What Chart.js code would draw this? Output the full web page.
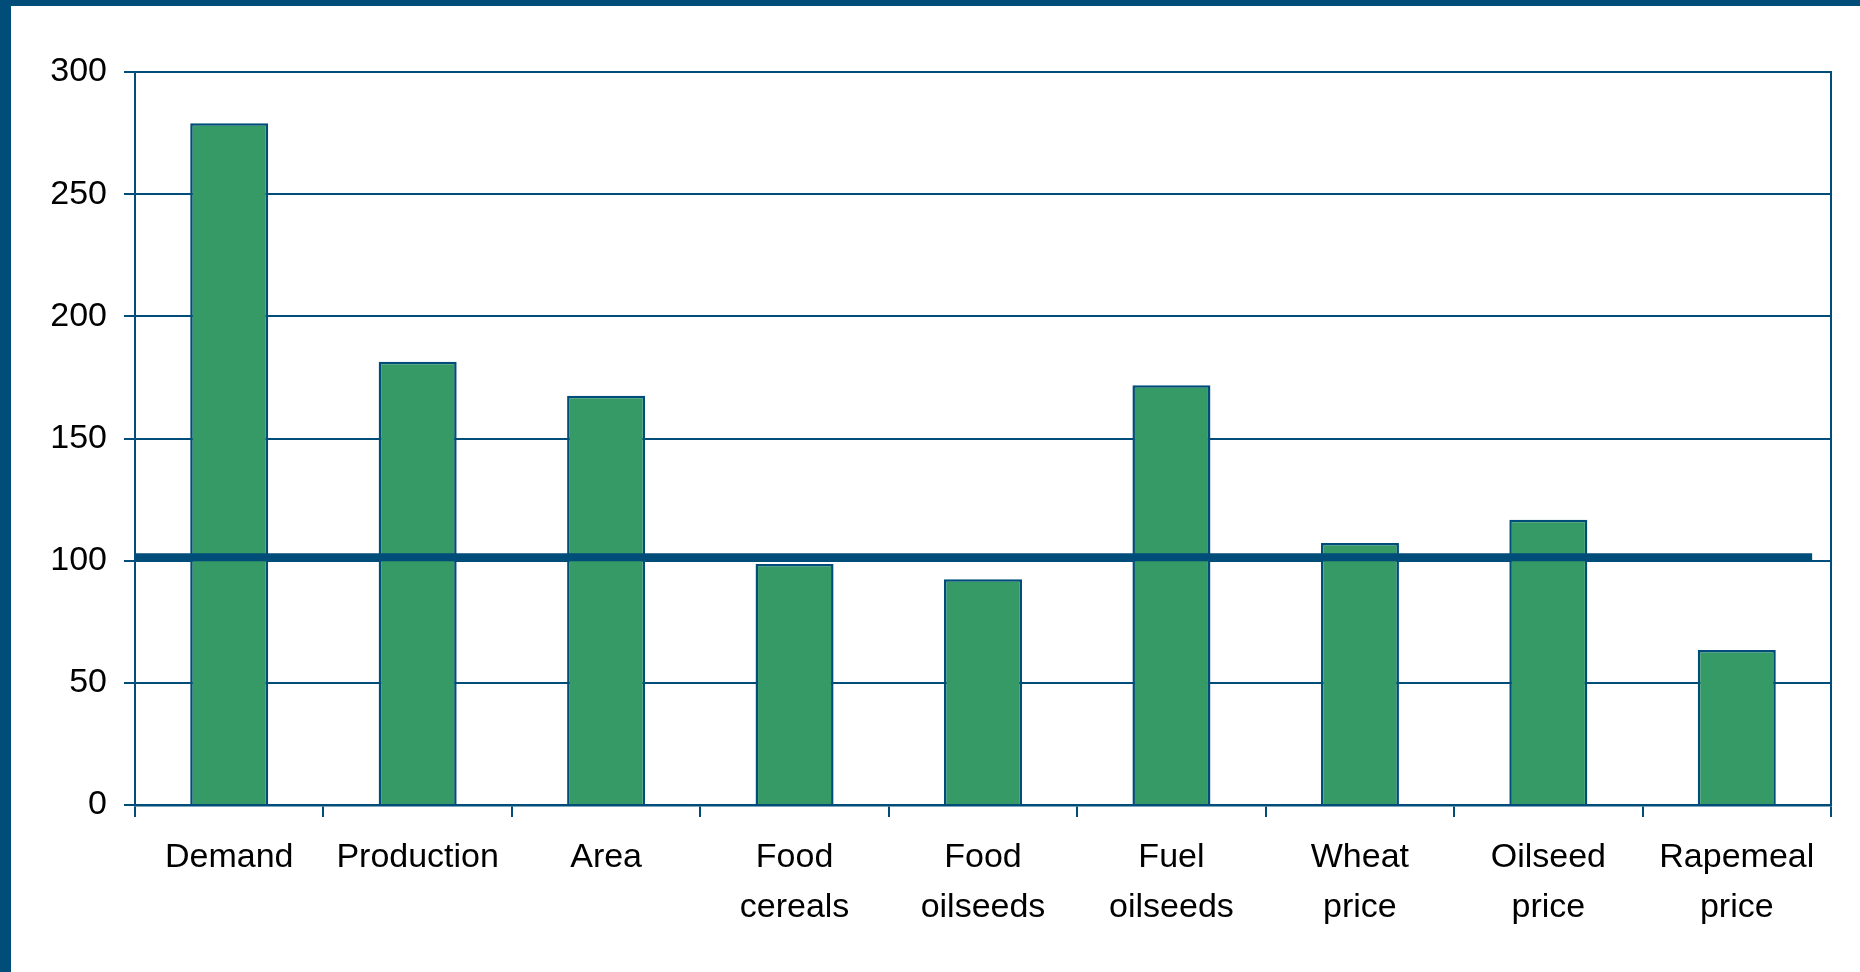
<!DOCTYPE html>
<html lang="en">

<head>
    <meta charset="UTF-8">
    <title>Index chart</title>
    <script src="https://cdn.jsdelivr.net/npm/chart.js"></script>
    <style>
        body {
            margin: 0;
            background-color: #ffffff;
            overflow: hidden;
        }

        #wrap {
            position: relative;
            width: 1860px;
            height: 972px;
        }

        .band {
            position: absolute;
            background-color: #004d7a;
        }
    </style>
</head>

<body>
    <div id="wrap">
        <canvas id="barChart" width="1860" height="972"></canvas>
        <div class="band" style="left:0;top:0;width:1860px;height:6px;"></div>
        <div class="band" style="left:0;top:0;width:11px;height:972px;"></div>
    </div>

    <script type="text/javascript">
        // chart data
        const categories = ['Demand', 'Production', 'Area', ['Food', 'cereals'], ['Food', 'oilseeds'],
            ['Fuel', 'oilseeds'], ['Wheat', 'price'], ['Oilseed', 'price'], ['Rapemeal', 'price']];
        const values = [279, 181.4, 167.5, 98.6, 92.4, 171.8, 107.2, 116.7, 63.4];
        const yTicks = [0, 50, 100, 150, 200, 250, 300];
        // reference line: value and extent in category units
        const refValue = 101.4;
        const refExtent = [-0.5, 8.4];

        const blue = '#004d7a';
        const green = '#359a66';
        const font = { family: "'Liberation Sans', Arial, sans-serif", size: 34, lineHeight: 1.47 };

        // draws the thick reference line over the bars, using the chart's scales
        const refLinePlugin = {
            id: 'refLine',
            afterDatasetsDraw(chart) {
                const x = chart.scales.x;
                const y = chart.scales.y;
                const c = chart.ctx;
                const py = y.getPixelForValue(refValue);
                c.save();
                c.strokeStyle = blue;
                c.lineWidth = 8;
                c.beginPath();
                c.moveTo(x.getPixelForValue(refExtent[0]), py);
                c.lineTo(x.getPixelForValue(refExtent[1]), py);
                c.stroke();
                c.restore();
            }
        };

        var ctx = document.getElementById('barChart').getContext('2d');
        var myChart = new Chart(ctx, {
            type: 'bar',
            data: {
                labels: categories,
                datasets: [{
                    data: values,
                    backgroundColor: green,
                    borderColor: blue,
                    borderWidth: 2.5,
                    barPercentage: 0.414,
                    categoryPercentage: 1
                }]
            },
            plugins: [refLinePlugin],
            options: {
                responsive: false,
                animation: false,
                devicePixelRatio: 1,
                layout: { padding: { left: 0, top: 72, right: 29, bottom: 0 } },
                plugins: {
                    legend: { display: false },
                    tooltip: { enabled: false }
                },
                scales: {
                    x: {
                        grid: { drawOnChartArea: false, color: blue, lineWidth: 2, tickLength: 12 },
                        border: { color: blue, width: 2.5 },
                        ticks: { color: '#000', font: font, padding: 16, maxRotation: 0, autoSkip: false },
                        afterFit: function (scale) { scale.height = 167; }
                    },
                    y: {
                        min: 0,
                        max: 300,
                        afterBuildTicks: function (scale) { scale.ticks = yTicks.map(v => ({ value: v })); },
                        grid: { color: blue, lineWidth: 2, tickLength: 11 },
                        border: { color: blue, width: 2 },
                        ticks: { color: '#000', font: font, padding: 17 },
                        afterFit: function (scale) { scale.width = 135; }
                    },
                    y2: {
                        position: 'right',
                        min: 0,
                        max: 300,
                        grid: { drawOnChartArea: false, drawTicks: false },
                        border: { color: blue, width: 2 },
                        ticks: { display: false },
                        afterFit: function (scale) { scale.width = 0; }
                    }
                }
            }
        });
    </script>
</body>

</html>
